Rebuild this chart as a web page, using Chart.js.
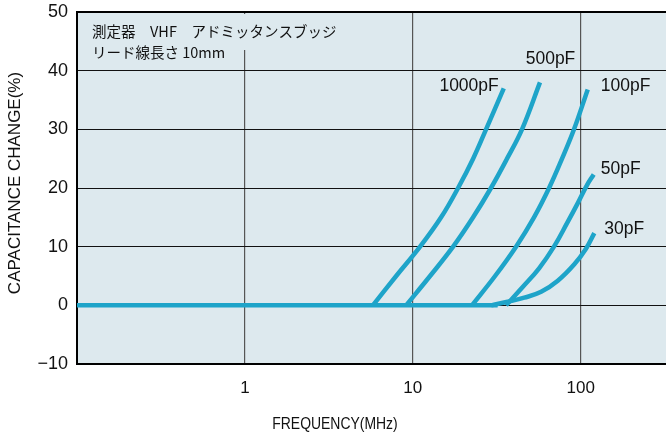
<!DOCTYPE html>
<html>
<head>
<meta charset="utf-8">
<script src="https://cdn.jsdelivr.net/npm/chart.js@4"></script>
<style>
  html, body { margin: 0; padding: 0; background: #fff; }
  #wrap { width: 666px; height: 434px; }
</style>
</head>
<body>
<div id="wrap"><canvas id="capChart"></canvas></div>
<script>
// frequency (MHz) and capacitance change (%)
const freqTicks = [1, 10, 100];
const yMin = -10, yMax = 50, yStep = 10;
const freqMin = 0.1, freqMax = 322;

const baseFreq = [0.1, 32];
const baseVal = [0, 0];

const f1000 = [5.78, 7.96, 11.05, 14.74, 18.6, 22.86, 27.3, 34.8];
const v1000 = [0, 5, 10, 15, 20, 25, 30, 37];
const f500 = [9.12, 12.67, 17.38, 22.86, 29.2, 36.4, 44.7, 57.2];
const v500 = [0, 5, 10, 15, 20, 25, 30, 38];
const f100 = [22.5, 30.9, 41.2, 52.7, 64.8, 77.4, 91.2, 110.1];
const v100 = [0, 5, 10, 15, 20, 25, 30, 36.8];
const f50 = [35.9, 45.4, 56.5, 69.3, 82.9, 96.4, 109.0, 119.5];
const v50 = [0, 3.2, 6.3, 10, 14, 17.5, 20.5, 22.3];
const f30 = [29.3, 36.7, 46.1, 58.1, 73.0, 91.6, 107.7, 120.5];
const v30 = [0, 0.6, 1.3, 2.3, 4.2, 7.0, 9.7, 12.3];

const curveNames = ['1000pF', '500pF', '100pF', '50pF', '30pF'];
const noteLines = ['測定器　VHF　アドミッタンスブッジ', 'リード線長さ 10mm'];

const LINE = '#1ea4c9';
const BG = '#dde9ee';
const SANS = '"Liberation Sans", Arial, sans-serif';

function pts(xs, ys) {
  return xs.map((x, i) => ({x: x, y: ys[i]}));
}

function lineSet(label, xs, ys) {
  return {
    label: label,
    data: pts(xs, ys),
    borderColor: LINE,
    borderWidth: 4.5,
    pointRadius: 0,
    fill: false,
    tension: 0.4,
    borderCapStyle: 'butt'
  };
}

// label placement relative to the last point of each curve (pixels)
const labelStyle = {
  '1000pF': {dx: -5, dy: -2, align: 'right'},
  '500pF': {dx: 10.5, dy: -23, align: 'center'},
  '100pF': {dx: 13, dy: -3, align: 'left'},
  '50pF': {dx: 7, dy: -5, align: 'left'},
  '30pF': {dx: 10, dy: -4, align: 'left'}
};

const decor = {
  id: 'decor',
  beforeDraw(chart) {
    const {ctx, chartArea: a} = chart;
    ctx.save();
    ctx.fillStyle = BG;
    ctx.fillRect(a.left, a.top, a.right - a.left, a.bottom - a.top);
    ctx.restore();
  },
  beforeDatasetsDraw(chart) {
    const {ctx, chartArea: a} = chart;
    ctx.save();
    // box behind the note covers the grid
    ctx.fillStyle = BG;
    ctx.fillRect(a.left + 2, a.top + 2, 262, 36);
    ctx.fillStyle = '#111';
    ctx.font = '14.5px "Noto Sans CJK JP", sans-serif';
    ctx.textBaseline = 'middle';
    ctx.textAlign = 'left';
    ctx.fillText(noteLines[0], a.left + 15, 31);
    ctx.fillText(noteLines[1], a.left + 15, 52);
    // top frame line
    ctx.strokeStyle = '#000';
    ctx.lineWidth = 2;
    ctx.beginPath();
    ctx.moveTo(a.left - 1, a.top);
    ctx.lineTo(a.right, a.top);
    ctx.stroke();
    ctx.restore();
  },
  afterDraw(chart) {
    const {ctx, chartArea: a} = chart;
    ctx.save();
    ctx.fillStyle = '#111';
    ctx.font = '17.5px ' + SANS;
    ctx.textBaseline = 'middle';
    chart.data.datasets.forEach((ds, i) => {
      const st = labelStyle[ds.label];
      if (!st) return;
      const meta = chart.getDatasetMeta(i);
      const last = meta.data[meta.data.length - 1];
      ctx.textAlign = st.align;
      ctx.fillText(ds.label, last.x + st.dx, last.y + st.dy);
    });
    // axis titles (narrow lettering)
    ctx.font = '17px ' + SANS;
    ctx.textAlign = 'center';
    ctx.save();
    ctx.translate(335, 424);
    ctx.scale(0.82, 1);
    ctx.fillText('FREQUENCY(MHz)', 0, 0);
    ctx.restore();
    ctx.translate(15, 183);
    ctx.rotate(-Math.PI / 2);
    ctx.fillText('CAPACITANCE CHANGE(%)', 0, 0);
    ctx.restore();
  }
};

new Chart(document.getElementById('capChart'), {
  type: 'line',
  data: {
    datasets: [
      Object.assign(lineSet('base', baseFreq, baseVal), {tension: 0}),
      lineSet(curveNames[0], f1000, v1000),
      lineSet(curveNames[1], f500, v500),
      lineSet(curveNames[2], f100, v100),
      lineSet(curveNames[3], f50, v50),
      lineSet(curveNames[4], f30, v30)
    ]
  },
  options: {
    responsive: true,
    maintainAspectRatio: false,
    animation: false,
    layout: {padding: {top: 12, right: 0, left: 0, bottom: 0}},
    plugins: {legend: {display: false}, tooltip: {enabled: false}},
    scales: {
      x: {
        type: 'logarithmic',
        min: freqMin,
        max: freqMax,
        afterBuildTicks(scale) {
          scale.ticks = freqTicks.map(v => ({value: v}));
        },
        afterFit(scale) {
          scale.height = 70;
          scale.paddingLeft = 0;
          scale.paddingRight = 0;
        },
        ticks: {
          color: '#111',
          padding: 14,
          maxRotation: 0,
          font: {family: SANS, size: 17},
          callback: v => String(v)
        },
        grid: {color: '#555', lineWidth: 1.2, drawTicks: false},
        border: {color: '#000', width: 2}
      },
      y: {
        min: yMin,
        max: yMax,
        afterFit(scale) {
          scale.width = 77;
          scale.paddingTop = 0;
          scale.paddingBottom = 0;
        },
        ticks: {
          stepSize: yStep,
          color: '#111',
          padding: 9,
          font: {family: SANS, size: 18},
          callback: v => (v < 0 ? '\u2212' + Math.abs(v) : String(v))
        },
        grid: {color: '#111', lineWidth: 1, drawTicks: false},
        border: {color: '#000', width: 2}
      }
    }
  },
  plugins: [decor]
});
</script>
</body>
</html>
